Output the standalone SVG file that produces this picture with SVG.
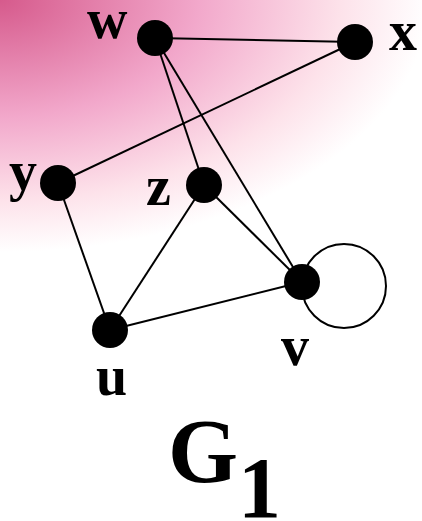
<svg xmlns="http://www.w3.org/2000/svg" width="422" height="521" viewBox="0 0 422 521">
<defs>
<radialGradient id="bg" cx="0" cy="0" r="260" gradientUnits="userSpaceOnUse" gradientTransform="scale(1.7,1)">
<stop offset="0" stop-color="#d65a8c"/>
<stop offset="0.45" stop-color="#f2a8cb"/>
<stop offset="0.77" stop-color="#fde2ea"/>
<stop offset="0.97" stop-color="#ffffff"/>
</radialGradient>
<style>
.e{stroke:#000;stroke-width:2;fill:none}
.n{fill:#000}
.t{font-family:"Liberation Serif",serif;font-weight:bold;fill:#000}
</style>
</defs>
<rect width="422" height="521" fill="#fff"/>
<rect width="422" height="521" fill="url(#bg)"/>
<g id="edges">
<line class="e" x1="155" y1="38" x2="355" y2="42"/>
<line class="e" x1="355" y1="42" x2="58" y2="183"/>
<line class="e" x1="155" y1="38" x2="204" y2="185"/>
<line class="e" x1="155" y1="38" x2="302" y2="282"/>
<line class="e" x1="204" y1="185" x2="302" y2="282"/>
<line class="e" x1="204" y1="185" x2="110" y2="330"/>
<line class="e" x1="58" y1="183" x2="110" y2="330"/>
<line class="e" x1="110" y1="330" x2="302" y2="282"/>
<circle class="e" cx="344" cy="286" r="42"/>
</g>
<g id="w"><circle class="n" cx="155" cy="38" r="18"/><text class="t" x="87" y="38" font-size="56">w</text></g>
<g id="x"><circle class="n" cx="355" cy="42" r="18"/><text class="t" x="389" y="50" font-size="56">x</text></g>
<g id="y"><circle class="n" cx="58" cy="183" r="18"/><text class="t" x="9" y="190" font-size="56">y</text></g>
<g id="z"><circle class="n" cx="204" cy="185" r="18"/><text class="t" x="146" y="205" font-size="56">z</text></g>
<g id="v"><circle class="n" cx="302" cy="282" r="18"/><text class="t" x="281" y="365" font-size="56">v</text></g>
<g id="u"><circle class="n" cx="110" cy="330" r="18"/><text class="t" x="96" y="395" font-size="56">u</text></g>
<g id="label"><text class="t" x="168" y="482" font-size="90">G<tspan font-size="86" dy="35">1</tspan></text></g>
</svg>
